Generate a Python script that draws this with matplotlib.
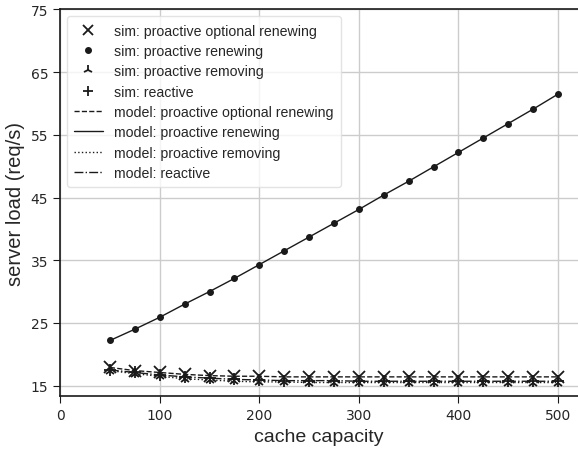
import numpy as np
import matplotlib
matplotlib.use("Agg")
import matplotlib.pyplot as plt
import seaborn as sns

sns.set_style("whitegrid")
plt.rcParams["font.family"] = ["Liberation Sans", "DejaVu Sans"]

capacity = [50, 75, 100, 125, 150, 175, 200, 225, 250, 275, 300, 325, 350, 375, 400, 425, 450, 475, 500]
optional_renewing = [17.9, 17.4, 17.1, 16.8, 16.6, 16.5, 16.5, 16.4, 16.4, 16.4, 16.4, 16.4, 16.4, 16.4, 16.4, 16.4, 16.4, 16.4, 16.4]
renewing = [22.2, 24.0, 25.9, 28.0, 30.0, 32.1, 34.3, 36.5, 38.7, 40.9, 43.1, 45.4, 47.6, 49.9, 52.2, 54.5, 56.8, 59.1, 61.5]
removing = [17.4, 16.9, 16.5, 16.1, 15.9, 15.7, 15.6, 15.6, 15.5, 15.5, 15.5, 15.5, 15.5, 15.5, 15.5, 15.5, 15.5, 15.5, 15.5]
reactive = [17.5, 17.1, 16.7, 16.4, 16.2, 16.0, 15.9, 15.8, 15.8, 15.8, 15.7, 15.7, 15.7, 15.7, 15.7, 15.7, 15.7, 15.7, 15.7]

K = "#1a1a1a"
fig, ax = plt.subplots(figsize=(5.78, 4.52), dpi=100)

ax.plot(capacity, optional_renewing, ls="none", marker="x", ms=8, mew=1.3, color=K, label="sim: proactive optional renewing")
ax.plot(capacity, renewing, ls="none", marker="o", ms=4, color=K, label="sim: proactive renewing")
ax.plot(capacity, removing, ls="none", marker="2", ms=8, mew=1.3, color=K, label="sim: proactive removing")
ax.plot(capacity, reactive, ls="none", marker="+", ms=8, mew=1.3, color=K, label="sim: reactive")
ax.plot(capacity, optional_renewing, ls="--", lw=1, color=K, label="model: proactive optional renewing")
ax.plot(capacity, renewing, ls="-", lw=1, color=K, label="model: proactive renewing")
ax.plot(capacity, removing, ls=":", lw=1, color=K, label="model: proactive removing")
ax.plot(capacity, reactive, ls="-.", lw=1, color=K, label="model: reactive")

ax.set_xlim(0, 520)
ax.set_ylim(13.3, 75)
ax.set_xticks([0, 100, 200, 300, 400, 500])
ax.set_yticks([15, 25, 35, 45, 55, 65, 75])
ax.set_xlabel("cache capacity", fontsize=14, labelpad=4)
ax.set_ylabel("server load (req/s)", fontsize=14.5, labelpad=4)
ax.tick_params(labelsize=10, length=5, direction="out", color=K, bottom=True, left=True,
               labelfontfamily="DejaVu Sans")
ax.grid(color="#cccccc", lw=1)
for sp in ax.spines.values():
    sp.set_color(K)
    sp.set_linewidth(1.2)
ax.spines["right"].set_visible(False)

leg = ax.legend(loc="upper left", fontsize=10.2, frameon=True, edgecolor="#dddddd",
                handlelength=2.0, labelspacing=0.45, borderaxespad=0.5, handletextpad=0.8,
                borderpad=0.5)
for h, ms in zip(leg.legend_handles[:4], [7, 4, 7, 7]):
    h.set_markersize(ms)

plt.subplots_adjust(left=0.104, right=1.0, top=0.977, bottom=0.121)
plt.savefig("out.png", dpi=100)
